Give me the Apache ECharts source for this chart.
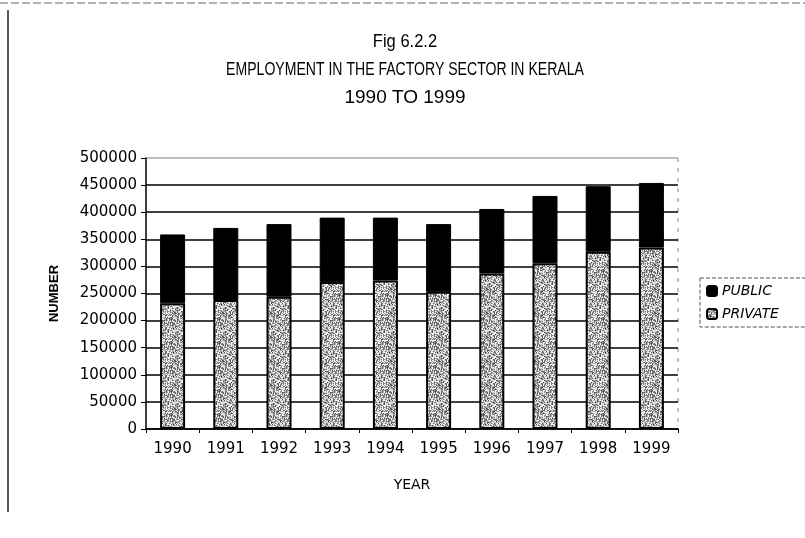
<!DOCTYPE html>
<html>
<head>
<meta charset="utf-8">
<script src="https://cdn.jsdelivr.net/npm/echarts@6/dist/echarts.min.js"></script>
<style>
  html, body { margin: 0; padding: 0; background: #fff; }
  #main { width: 805px; height: 538px; }
</style>
</head>
<body>
<div id="main"></div>
<script>
// values
var years = ['1990', '1991', '1992', '1993', '1994', '1995', '1996', '1997', '1998', '1999'];
var privateJobs = [232000, 238000, 244000, 271000, 274000, 253000, 287000, 306000, 327000, 335000];
var publicJobs = [127000, 133000, 134000, 119000, 116000, 125000, 119000, 124000, 121000, 119000];
var titleLines = ['Fig 6.2.2', 'EMPLOYMENT IN THE FACTORY SECTOR IN KERALA', '1990 TO 1999'];
var titleSqueeze = [0.87, 0.74, 1.0];

// speckled grey fill for the private part, like the photocopied original
function speckle() {
    var c = document.createElement('canvas');
    c.width = 24; c.height = 24;
    var ctx = c.getContext('2d');
    for (var y = 0; y < 24; y++) {
        for (var x = 0; x < 24; x++) {
            var h = ((x * 73856093) ^ (y * 19349663)) >>> 0;
            h = (h ^ (h >>> 13)) * 1274126177 >>> 0;
            var g = (h % 180) + 75;
            if (h % 7 === 0) g = 255;
            ctx.fillStyle = 'rgb(' + g + ',' + g + ',' + g + ')';
            ctx.fillRect(x, y, 1, 1);
        }
    }
    return c;
}

var chart = echarts.init(document.getElementById('main'));
var font = "'Liberation Sans', Arial, sans-serif";
var tickFont = "'DejaVu Sans', Verdana, sans-serif";

var gridColors = ['#000', '#000', '#000', '#000', '#000', '#000', '#000', '#000', '#000', '#000', '#aaa'];

// title lines drawn as squeezed text, the original uses tight kerning
var titleGraphics = titleLines.map(function (t, i) {
    return {
        type: 'text',
        x: 405,
        y: 42 + i * 28,
        scaleX: titleSqueeze[i],
        style: {
            text: t,
            font: '19px ' + font,
            fill: '#000',
            textAlign: 'center',
            textVerticalAlign: 'middle'
        }
    };
});

var option = {
    backgroundColor: '#fff',
    animation: false,
    legend: {
        orient: 'vertical',
        left: 700,
        top: 278,
        itemWidth: 10,
        itemHeight: 10,
        itemGap: 9,
        padding: [6, 30, 6, 6],
        borderColor: '#555',
        borderWidth: 1,
        borderType: 'dashed',
        data: ['PUBLIC', 'PRIVATE'],
        textStyle: { fontFamily: tickFont, fontSize: 14, fontStyle: 'italic', color: '#000' }
    },
    grid: { left: 146, right: 127, top: 158, bottom: 109 },
    xAxis: {
        type: 'category',
        data: years,
        name: 'YEAR',
        nameLocation: 'middle',
        nameGap: 49,
        nameTextStyle: { fontFamily: tickFont, fontSize: 14, color: '#000' },
        axisLine: { lineStyle: { color: '#000', width: 1.5 } },
        axisTick: { show: true, length: 4, lineStyle: { color: '#000' } },
        axisLabel: { fontFamily: tickFont, fontSize: 15, color: '#000', margin: 13 }
    },
    yAxis: {
        type: 'value',
        min: 0,
        max: 500000,
        interval: 50000,
        name: 'NUMBER',
        nameLocation: 'middle',
        nameGap: 85,
        nameTextStyle: { fontFamily: font, fontSize: 13, fontWeight: 'bold', color: '#000' },
        axisLine: { show: true, lineStyle: { color: '#000', width: 1.5 } },
        axisTick: { show: true, length: 5, lineStyle: { color: '#000' } },
        axisLabel: {
            fontFamily: tickFont, fontSize: 15, color: '#000', margin: 9,
            formatter: function (v) { return String(v); }
        },
        splitLine: { lineStyle: { color: gridColors, width: 1.5 } }
    },
    graphic: titleGraphics.concat([
        { type: 'line', shape: { x1: 0, y1: 3, x2: 805, y2: 3 }, style: { stroke: '#666', lineWidth: 1, lineDash: [8, 3] } },
        { type: 'line', shape: { x1: 8, y1: 10, x2: 8, y2: 512 }, style: { stroke: '#222', lineWidth: 1.5 } },
        { type: 'line', shape: { x1: 678, y1: 158, x2: 678, y2: 429 }, style: { stroke: '#888', lineWidth: 1, lineDash: [4, 6] } }
    ]),
    series: [
        {
            name: 'PRIVATE',
            type: 'bar',
            stack: 'jobs',
            barWidth: '47%',
            data: privateJobs,
            itemStyle: {
                color: { image: speckle(), repeat: 'repeat' },
                borderColor: '#000',
                borderWidth: 2
            }
        },
        {
            name: 'PUBLIC',
            type: 'bar',
            stack: 'jobs',
            data: publicJobs,
            itemStyle: { color: '#000', borderColor: '#000', borderWidth: 1 }
        }
    ]
};

chart.setOption(option);
</script>
</body>
</html>
